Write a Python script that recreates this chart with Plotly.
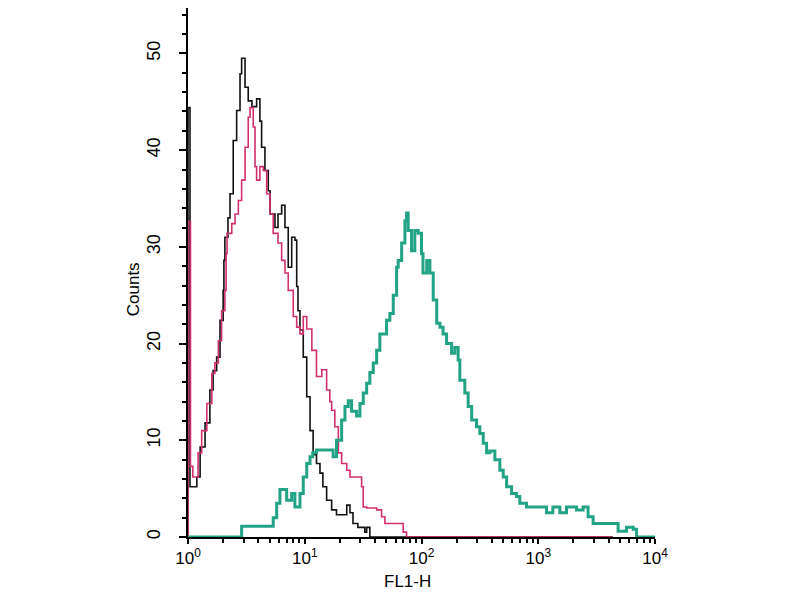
import plotly.graph_objects as go

# FL1-H histogram overlay (flow cytometry), counts per channel
black_x = [1.0, 1.0, 1.04, 1.19, 1.27, 1.40, 1.54, 1.64, 1.76, 1.88, 2.00, 2.03, 2.07, 2.20,
           2.29, 2.44, 2.61, 2.79, 2.88, 3.08, 3.28, 3.53, 3.87, 4.13, 4.27, 4.56, 4.87,
           5.04, 5.56, 5.90, 6.34, 6.77, 7.22, 7.73, 8.24, 8.53, 8.75, 9.10, 9.71, 10.4,
           11.1, 11.8, 12.6, 13.5, 14.3, 15.4, 17.0, 18.7, 21.2, 22.9, 24.4, 25.9, 28.5,
           32.7, 33.9, 36.1, 4350]
black_y = [0, 44.4, 5.2, 6.2, 9.3, 11.8, 15.2, 17.2, 18.6, 22.4, 25.5, 28.6, 31, 33,
           35.5, 41, 44.1, 47.9, 49.5, 46.5, 45.1, 44.5, 45.3, 43, 40.3, 37.9, 35.8,
           33.4, 32, 33.4, 34.3, 32, 27.9, 31, 30.7, 25.9, 23.4, 21.4, 18.6, 14.5,
           11, 8.5, 7.6, 6.6, 5.2, 3.8, 2.8, 2.3, 2.3, 3.3, 2.5, 1.4, 1.0,
           0.5, 1.0, 0, 0]

magenta_x = [1.0, 1.0, 1.05, 1.10, 1.22, 1.31, 1.45, 1.60, 1.70, 1.82, 1.94, 2.07, 2.12,
             2.16, 2.37, 2.53, 2.70, 2.88, 3.08, 3.28, 3.40, 3.62, 3.75, 3.87, 4.13, 4.41,
             4.72, 5.04, 5.37, 5.90, 6.34, 6.77, 7.22, 7.97, 8.53, 9.10, 9.71, 10.4, 11.5,
             12.6, 14.0, 15.4, 16.4, 17.0, 18.1, 19.4, 20.7, 22.9, 24.4, 27.8, 30.7, 31.7,
             33.9, 37.4, 41.3, 45.5, 48.6, 65.3, 69.7, 74.5, 4350]
magenta_y = [0, 32.6, 7.3, 6.2, 8.7, 11, 13.8, 16.9, 18, 20.3, 23.4, 25.5, 29.3,
             31.4, 32.4, 33.4, 34.8, 36.9, 40.3, 43.4, 44.4, 42.4, 38.3, 36.9, 38.3, 37.9,
             35.5, 33.4, 31.4, 30.4, 28.6, 27.3, 25.5, 22.8, 21.7, 21, 22.8, 21.5, 19.3,
             16.6, 17.3, 15.2, 14, 13.1, 11.4, 8.7, 7.6, 6.9, 6.2, 6.2, 5.2, 3.1,
             3.0, 3.0, 2.8, 2.1, 1.4, 1.4, 0.5, 0, 0]

teal_x = [1.0, 2.88, 5.04, 5.37, 5.75, 6.13, 7.00, 7.73, 8.24, 9.10, 9.71, 10.4, 11.1,
          11.7, 12.6, 15.4, 17.5, 18.7, 20.7, 22.1, 23.6, 25.2, 27.8, 29.7, 31.7, 33.9,
          36.1, 38.6, 41.3, 44.0, 47.0, 50.2, 53.6, 57.3, 61.2, 63.2, 67.6, 72.1, 74.5,
          76.9, 82.2, 87.7, 93.7, 100, 103, 111, 118, 126, 135, 144, 153, 164, 181,
          193, 206, 213, 235, 251, 269, 296, 316, 338, 361, 385, 425, 469, 501, 536,
          591, 652, 695, 794, 1178, 1334, 1531, 1746, 2128, 2422, 2673, 2951, 4375,
          4831, 5702, 6501, 6950, 10000]
teal_y = [0, 1.1, 1.1, 2, 3.5, 4.9, 3.8, 4.5, 3.1, 4.5, 6.2, 7.6, 8.3,
          8.7, 9, 9, 8.3, 10, 12.1, 13.5, 14.1, 13, 12.5, 13.8, 14.9, 15.9,
          17, 18, 19.3, 21, 21, 22.4, 23.1, 25, 27.9, 28.6, 30.4, 32.7, 33.5,
          31.7, 29.6, 31.7, 31.4, 29.3, 27.3, 28.6, 27.3, 24.5, 22.1, 21.7, 21, 20, 19,
          19.6, 18.3, 16.2, 14.9, 13.5, 12.1, 11.4, 10.7, 9.7, 8.7, 8.9, 8, 6.9, 6.2, 5.2,
          4.5, 4.2, 3.5, 3.1, 2.5, 3.1, 2.5, 3.1, 2.8, 3.1, 2.1, 1.4, 1.4,
          0.6, 1, 0.8, 0, 0]

decade_vals = [1, 10, 100, 1000, 10000]
decade_text = ['10<sup>0</sup>', '10<sup>1</sup>', '10<sup>2</sup>',
               '10<sup>3</sup>', '10<sup>4</sup>']
minor_vals = [m * d for d in [1, 10, 100, 1000] for m in range(2, 10)]
count_ticks = [0, 10, 20, 30, 40, 50]

black_color = '#111111'
magenta_color = '#d0306e'
teal_color = '#22a386'
font_family = 'Liberation Sans, Arial, sans-serif'

fig = go.Figure()

# thin outlines first, thick teal on top
fig.add_trace(go.Scatter(x=black_x, y=black_y, mode='lines', line_shape='hv',
                         line=dict(color=black_color, width=1.6)))
fig.add_trace(go.Scatter(x=magenta_x, y=magenta_y, mode='lines', line_shape='hv',
                         line=dict(color=magenta_color, width=1.6)))
fig.add_trace(go.Scatter(x=teal_x, y=teal_y, mode='lines', line_shape='hv',
                         line=dict(color=teal_color, width=3)))

# page body has an 8px margin, so the figure is sized to fit inside it
fig.update_layout(
    width=784, height=584,
    paper_bgcolor='white',
    plot_bgcolor='white',
    showlegend=False,
    font=dict(family=font_family, size=18, color='black'),
    margin=dict(l=179.5, r=136.5, t=0, b=55, autoexpand=False),
    xaxis=dict(
        type='log',
        range=[0, 4],
        tickmode='array',
        tickvals=decade_vals,
        ticktext=decade_text,
        tickfont=dict(size=17),
        ticks='outside',
        ticklen=5,
        tickwidth=1.5,
        tickcolor='black',
        showline=True,
        linecolor='black',
        linewidth=2,
        showgrid=False,
        zeroline=False,
        minor=dict(tickmode='array', tickvals=minor_vals, ticks='outside',
                   ticklen=4, tickwidth=1.5, tickcolor='black', showgrid=False),
    ),
    yaxis=dict(
        range=[0, 54.7],
        tickmode='array',
        tickvals=count_ticks,
        tickangle=-90,
        ticks='outside',
        ticklen=7,
        tickwidth=1.5,
        tickcolor='black',
        ticklabelstandoff=12,
        showline=True,
        linecolor='black',
        linewidth=2,
        showgrid=False,
        zeroline=False,
        minor=dict(dtick=2, ticks='outside', ticklen=4, tickwidth=1.5,
                   tickcolor='black', showgrid=False),
    ),
)

# axis titles placed as in the original
fig.add_annotation(text='Counts', textangle=-90, showarrow=False,
                   xref='paper', yref='paper', x=-0.116, y=0.468,
                   xanchor='center', yanchor='middle', font=dict(size=17))
fig.add_annotation(text='FL1-H', showarrow=False,
                   xref='paper', yref='paper', x=0.469, y=-0.084,
                   xanchor='center', yanchor='middle', font=dict(size=17))

fig.write_html("out.html")
